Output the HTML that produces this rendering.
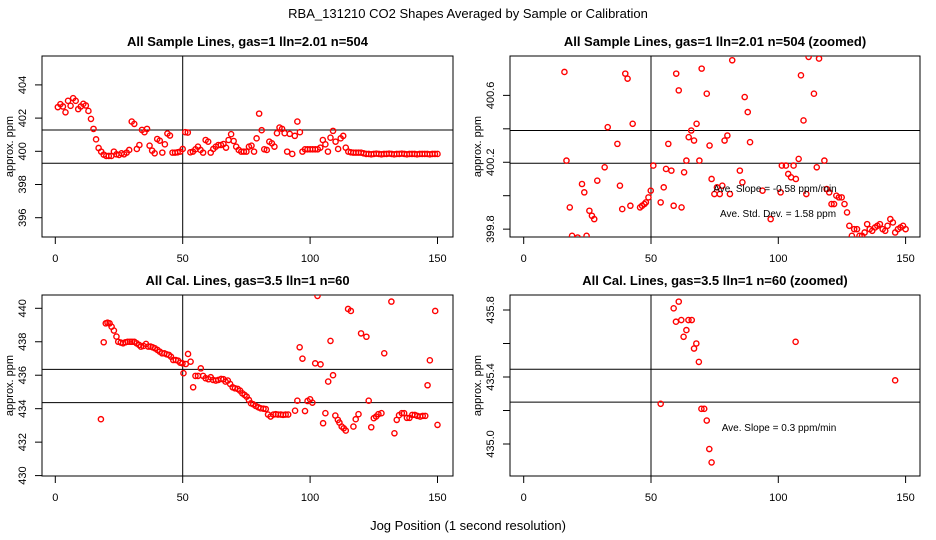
<!DOCTYPE html>
<html><head><meta charset="utf-8"><style>
body{margin:0;background:#fff;}
svg{display:block;font-family:"Liberation Sans",sans-serif;}
</style></head><body>
<svg id="chart" width="936" height="540" viewBox="0 0 936 540">
<text x="468" y="18" font-size="13" text-anchor="middle">RBA_131210  CO2 Shapes Averaged by Sample or Calibration</text>
<text x="468" y="530" font-size="13" text-anchor="middle">Jog Position (1 second resolution)</text>
</svg>
<script>
// ---- Panel 1: All Sample Lines ----
const p1Vals = [402.66,402.84,402.7,402.35,403.04,402.74,403.2,403.04,402.54,402.7,402.86,402.76,402.43,401.95,401.35,400.72,400.2,399.98,399.8,399.72,399.72,399.72,399.98,399.82,399.78,399.88,399.82,399.92,400.08,401.79,401.65,400.14,400.38,401.29,401.15,401.35,400.34,400.04,399.88,400.74,400.64,399.92,400.42,401.07,400.95,399.92,399.92,399.94,399.98,400.14,401.15,401.13,399.94,399.98,400.12,400.28,400.08,399.92,400.68,400.58,399.92,400.14,400.28,400.38,400.38,400.44,400.22,400.68,401.03,400.62,400.28,400.08,399.98,399.98,399.98,400.28,400.34,399.98,400.78,402.27,401.27,400.12,400.08,400.58,400.48,400.28,401.09,401.43,401.35,401.09,399.98,401.05,399.84,400.93,401.79,401.15,399.98,400.12,400.12,400.12,400.12,400.12,400.12,400.22,400.68,400.42,399.98,400.82,401.23,400.58,400.14,400.78,400.93,400.22,399.98,399.94,399.92,399.92,399.92,399.92,399.88,399.84,399.84,399.82,399.84,399.86,399.84,399.82,399.84,399.84,399.86,399.84,399.82,399.84,399.84,399.86,399.84,399.82,399.84,399.84,399.84,399.82,399.84,399.84,399.84,399.84,399.82,399.84,399.84,399.84];
const p1X = p1Vals.map((v,i)=>i+1);
const p1Ticks = [396,398,400,402,404];
const p1HLines = [401.28,399.28];

// ---- Panel 2: All Sample Lines zoomed ----
const p2X = [16.0,16.8,18.1,19.0,21.2,22.9,23.8,24.7,25.8,26.8,27.7,28.9,31.8,33.0,36.8,37.8,38.7,39.9,40.8,41.9,42.8,45.7,46.5,47.4,48.0,49.0,49.9,50.9,53.8,55.0,55.9,56.8,58.0,58.9,59.9,60.9,62.0,63.0,63.9,64.8,65.8,66.9,67.9,69.0,69.9,71.9,73.0,73.8,74.9,75.9,77.0,78.0,78.9,80.0,81.0,81.9,84.9,85.9,86.8,88.0,88.9,93.8,97.0,100.9,101.4,103.0,103.9,105.0,106.0,106.9,108.0,108.9,109.9,111.0,111.9,114.0,115.1,116.0,118.1,119.0,120.0,120.9,121.9,122.8,123.8,124.9,126.0,127.0,127.9,128.9,129.8,130.9,131.9,132.9,133.9,134.9,135.9,136.9,138.0,138.9,139.9,141.0,142.0,142.9,144.0,145.0,145.9,147.0,148.0,149.0,150.0];
const p2Vals = [400.74,400.21,399.93,399.76,399.75,400.07,400.02,399.76,399.91,399.88,399.86,400.09,400.17,400.41,400.31,400.06,399.92,400.73,400.70,399.94,400.43,399.93,399.94,399.95,399.96,399.99,400.03,400.18,399.96,400.05,400.16,400.31,400.15,399.94,400.73,400.63,399.93,400.14,400.21,400.35,400.39,400.33,400.43,400.21,400.76,400.61,400.30,400.10,400.01,400.05,400.01,400.06,400.33,400.36,400.01,400.81,400.15,400.08,400.59,400.50,400.32,400.03,399.86,400.02,400.18,400.18,400.13,400.11,400.18,400.10,400.22,400.72,400.45,400.01,400.83,400.61,400.17,400.82,400.21,400.04,400.02,399.95,399.95,400.00,399.99,399.99,399.95,399.90,399.82,399.76,399.80,399.80,399.76,399.76,399.78,399.83,399.80,399.79,399.81,399.82,399.83,399.80,399.79,399.82,399.86,399.84,399.78,399.80,399.81,399.82,399.80];
const p2Ticks = [399.8,400.0,400.2,400.4,400.6];
const p2TickLabels = ["399.8","","400.2","","400.6"];
const p2HLines = [400.39,400.194];

// ---- Panel 3: All Cal Lines ----
const p3X = [17.9,19.0,19.8,20.5,21.3,22.1,23.0,24.0,24.7,25.7,26.6,27.5,28.4,29.3,30.1,31.0,31.9,32.9,33.6,34.6,35.6,36.5,37.4,38.2,39.1,40.1,41.0,41.9,42.8,43.7,44.6,45.4,46.3,47.3,48.2,49.0,49.9,50.3,51.2,52.1,53.1,54.1,55.0,56.0,57.1,58.0,59.0,60.1,61.0,61.9,63.0,64.0,65.1,66.0,66.8,67.7,68.6,69.6,70.5,71.6,72.5,73.4,74.3,75.1,76.0,76.8,77.7,78.7,79.7,80.6,81.7,82.6,83.5,84.5,85.6,86.5,87.4,88.5,89.4,90.4,91.4,94.1,95.0,95.9,97.0,98.0,99.0,100.0,100.9,102.0,102.9,104.1,105.1,106.0,107.1,108.0,109.0,109.9,110.9,111.5,112.4,113.2,114.0,114.9,116.0,117.0,117.9,119.0,120.0,122.1,123.0,124.0,125.0,125.9,126.8,128.0,129.1,131.9,133.1,134.0,134.9,136.0,136.9,138.0,139.0,140.1,141.1,142.1,143.2,144.2,145.2,146.1,147.0,149.1,150.0];
const p3Vals = [433.37,437.97,439.1,439.14,439.1,438.9,438.67,438.31,438.0,437.95,437.91,437.97,438.0,438.0,438.0,438.0,437.91,437.81,437.71,437.75,437.87,437.71,437.71,437.67,437.61,437.51,437.41,437.31,437.31,437.25,437.21,437.11,436.91,436.91,436.87,436.75,436.71,436.12,436.67,437.27,436.81,435.28,435.96,435.96,436.41,435.96,435.82,435.76,435.88,435.72,435.68,435.72,435.78,435.76,435.62,435.68,435.48,435.28,435.22,435.18,435.08,434.92,434.82,434.72,434.52,434.32,434.26,434.16,434.08,434.02,434.0,433.98,433.65,433.53,433.65,433.67,433.65,433.65,433.63,433.65,433.65,433.88,434.48,437.67,436.99,433.86,434.46,434.56,434.36,436.71,440.74,436.65,433.13,433.73,435.62,438.05,436.0,433.59,433.33,433.17,432.93,432.83,432.69,439.96,439.84,432.93,433.37,433.67,438.5,438.3,434.48,432.89,433.43,433.53,433.67,433.73,437.31,440.4,432.53,433.33,433.61,433.73,433.73,433.45,433.45,433.63,433.63,433.57,433.53,433.57,433.57,435.4,436.89,439.84,433.03];
const p3Ticks = [430,432,434,436,438,440];
const p3HLines = [436.35,434.36];

// ---- Panel 4: All Cal Lines zoomed ----
const p4X = [60.9,58.9,59.8,61.9,64.7,66.0,63.9,62.8,67.8,66.9,68.8,106.8,145.9,53.8,69.8,70.9,71.9,72.9,73.8];
const p4Vals = [435.85,435.81,435.73,435.74,435.74,435.74,435.68,435.64,435.60,435.57,435.49,435.61,435.38,435.24,435.21,435.21,435.14,434.97,434.89];
const p4Ticks = [435.0,435.2,435.4,435.6,435.8];
const p4TickLabels = ["435.0","","435.4","","435.8"];
const p4HLines = [435.446,435.25];

const xTicks = [0,50,100,150];
const NS='http://www.w3.org/2000/svg';
const svg=document.getElementById('chart');
function mk(tag,attrs,parent){const e=document.createElementNS(NS,tag);for(const k in attrs)e.setAttribute(k,attrs[k]);(parent||svg).appendChild(e);return e;}

function panel(id,box,x0px,pxPerX,yRef,yRefPx,pxPerY,xs,vals,ticks,tickLabels,hlines,title,notes){
  const X=v=>x0px+v*pxPerX;
  const Y=v=>yRefPx-(v-yRef)*pxPerY;
  const g=mk('g',{});
  
  
  const t=mk('text',{x:(box.l+box.r)/2,y:box.t-10,'font-size':13,'font-weight':'bold','text-anchor':'middle'},g);
  t.textContent=title;
  
  
  const cp=mk('clipPath',{id:id+'-clip'},g);
  mk('rect',{x:box.l,y:box.t,width:box.r-box.l,height:box.b-box.t},cp);
  const frame=mk('rect',{x:box.l,y:box.t,width:box.r-box.l,height:box.b-box.t,fill:'none',stroke:'#000','stroke-width':1},g);
  
  
  const vl=mk('line',{x1:X(50),x2:X(50),y1:box.t,y2:box.b,stroke:'#000','stroke-width':1},g);
  
  
  hlines.forEach(h=>{
    const l=mk('line',{x1:box.l,x2:box.r,y1:Y(h),y2:Y(h),stroke:'#000','stroke-width':1},g);
    
    
  });
  xTicks.forEach(v=>{
    mk('line',{x1:X(v),x2:X(v),y1:box.b,y2:box.b+7,stroke:'#000'},g);
    const tl=mk('text',{x:X(v),y:box.b+25,'font-size':11,'text-anchor':'middle'},g);
    tl.textContent=v;
    
    
  });
  ticks.forEach((v,i)=>{
    mk('line',{x1:box.l-7,x2:box.l,y1:Y(v),y2:Y(v),stroke:'#000'},g);
    const lab=tickLabels?tickLabels[i]:String(v);
    if(lab){
      const tl=mk('text',{x:0,y:0,'font-size':11,'text-anchor':'middle',transform:`translate(${box.l-16},${Y(v)}) rotate(-90)`},g);
      tl.textContent=lab;
      
      
    }
  });
  const yt=mk('text',{x:0,y:0,'font-size':11,'text-anchor':'middle',transform:`translate(${box.l-29},${(box.t+box.b)/2}) rotate(-90)`},g);
  yt.textContent='approx. ppm';
  
  
  const pg=mk('g',{'clip-path':`url(#${id}-clip)`},g);
  xs.forEach((xv,i)=>{
    const c=mk('circle',{cx:X(xv),cy:Y(vals[i]),r:2.6,fill:'none',stroke:'#f00','stroke-width':1.4},pg);
    
    
  });
  (notes||[]).forEach(n=>{
    const nt=mk('text',{x:n.x,y:n.y,'font-size':10,'text-anchor':'middle'},g);
    nt.textContent=n.text;
    
    
  });
}

panel('sample',{l:42,r:453,t:56,b:237},55.3,2.548,400,151.3,16.6,p1X,p1Vals,p1Ticks,null,p1HLines,'All Sample Lines, gas=1 lln=2.01 n=504');
panel('sample-zoomed',{l:510,r:920,t:56,b:237},523.7,2.546,400,195.7,167.2,p2X,p2Vals,p2Ticks,p2TickLabels,p2HLines,'All Sample Lines, gas=1 lln=2.01 n=504 (zoomed)',
  [{x:775,y:192,text:'Ave. Slope =  -0.58  ppm/min'},{x:778,y:217,text:'Ave. Std. Dev. =  1.58  ppm'}]);
panel('cal',{l:42,r:453,t:295,b:476},55.3,2.548,440,308.3,16.73,p3X,p3Vals,p3Ticks,null,p3HLines,'All Cal. Lines, gas=3.5 lln=1 n=60');
panel('cal-zoomed',{l:510,r:920,t:295,b:476},523.7,2.546,435.8,310,167.5,p4X,p4Vals,p4Ticks,p4TickLabels,p4HLines,'All Cal. Lines, gas=3.5 lln=1 n=60 (zoomed)',
  [{x:779,y:431,text:'Ave. Slope = 0.3  ppm/min'}]);
</script>
</body></html>
